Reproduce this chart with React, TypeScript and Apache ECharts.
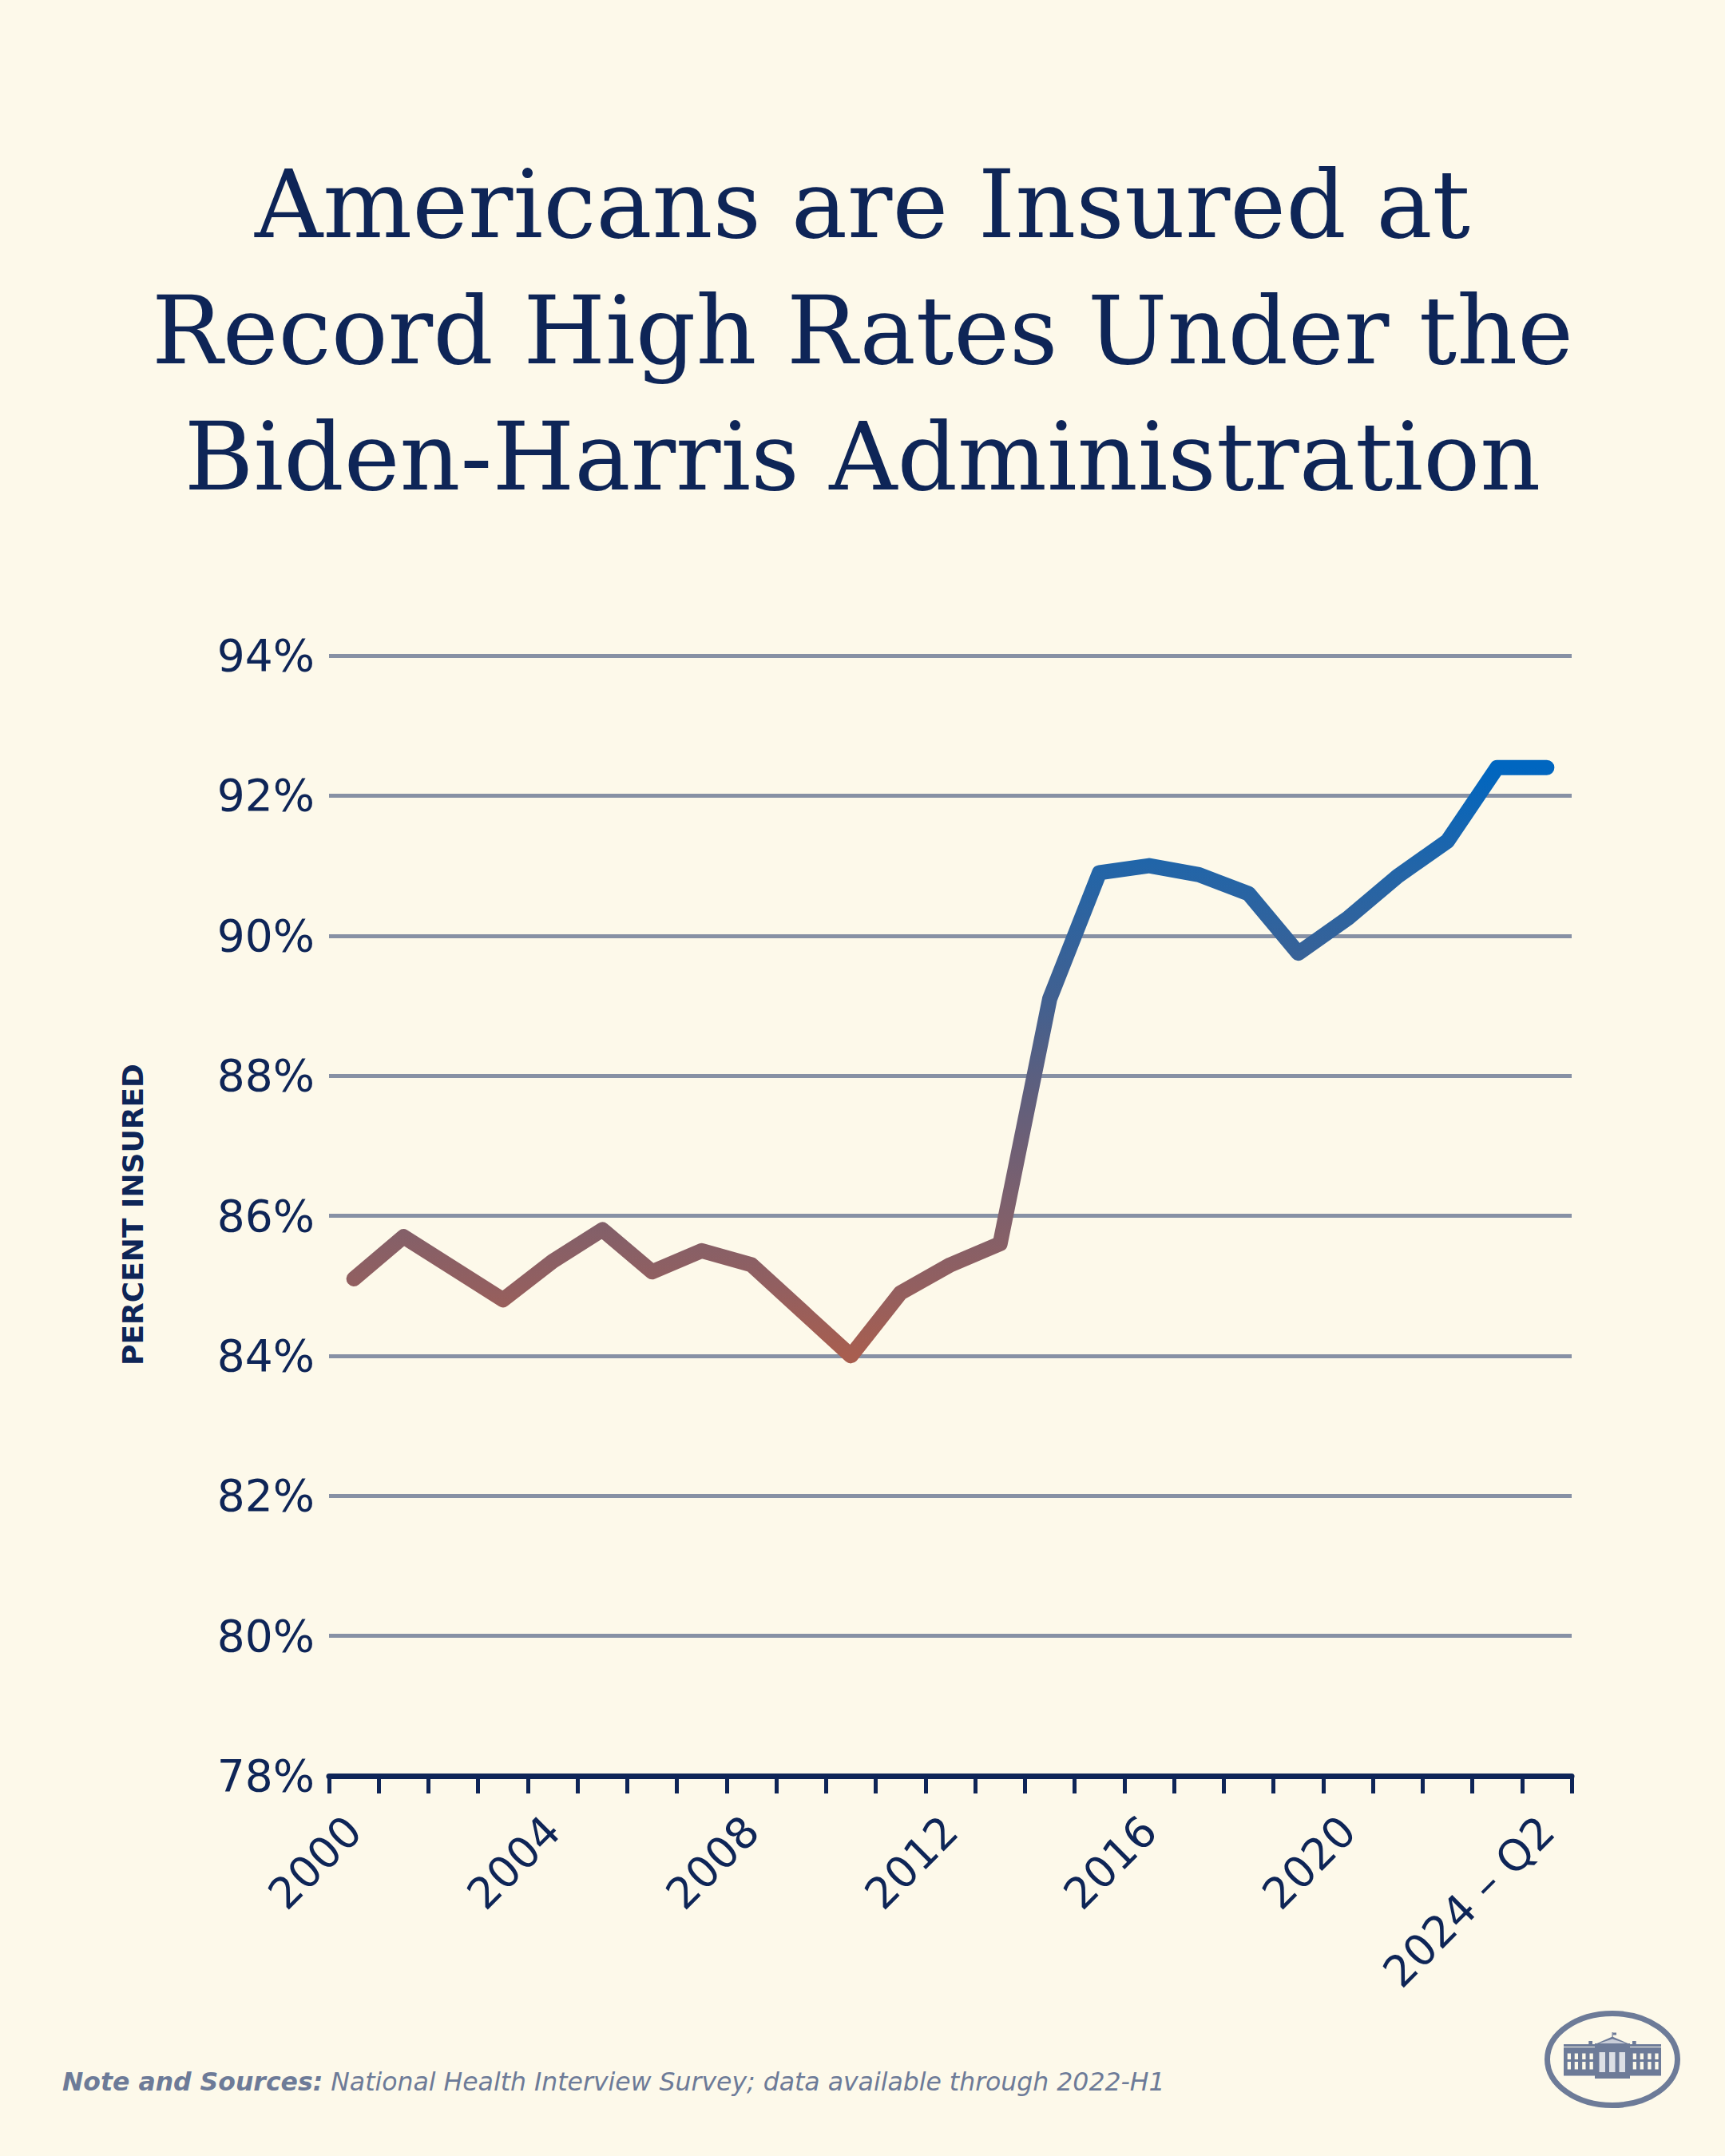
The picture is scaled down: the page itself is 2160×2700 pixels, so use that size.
import React, { useEffect, useRef } from 'react';
import * as echarts from 'echarts';

// ---------- data ----------
const years = [
  '2000', '2001', '2002', '2003', '2004', '2005', '2006', '2007', '2008', '2009',
  '2010', '2011', '2012', '2013', '2014', '2015', '2016', '2017', '2018', '2019',
  '2020', '2021', '2022', '2023', '2024 – Q2',
];
const insured = [
  85.1, 85.7, 85.25, 84.8, 85.35, 85.8, 85.2, 85.5, 85.3, 84.65,
  84.0, 84.9, 85.3, 85.6, 89.1, 90.9, 91.0, 90.87, 90.6, 89.75,
  90.25, 90.85, 91.35, 92.4, 92.4,
];
const Y_MIN = 78;
const Y_MAX = 94;
const Y_STEP = 2;
const titleLines = [
  'Americans are Insured at',
  'Record High Rates Under the',
  'Biden-Harris Administration',
];
const yAxisTitle = 'PERCENT INSURED';
const noteLabel = 'Note and Sources:';
const noteText = ' National Health Interview Survey; data available through 2022-H1';

// ---------- styles ----------
const BG = '#fdf9ea';
const NAVY = '#0e2557';
const GRID = '#8791a5';
const SLATE = '#6d7b98';
const lineStops = [
  { offset: 0, color: '#0066c0' },
  { offset: 0.1667, color: '#2265a8' },
  { offset: 0.4048, color: '#43608f' },
  { offset: 0.5238, color: '#5a5f80' },
  { offset: 0.6429, color: '#6e5f75' },
  { offset: 0.7619, color: '#80606b' },
  { offset: 0.881, color: '#925f60' },
  { offset: 1, color: '#a85e4f' },
];

function logoElements() {
  const els: any[] = [];
  const fill = SLATE;
  els.push({ type: 'ellipse', shape: { cx: 2019, cy: 2579, rx: 81.5, ry: 57.5 }, style: { fill: 'none', stroke: SLATE, lineWidth: 7 } });
  els.push({ type: 'rect', shape: { x: 1958, y: 2560, width: 122, height: 3 }, style: { fill } });
  els.push({ type: 'rect', shape: { x: 1958, y: 2564, width: 122, height: 4 }, style: { fill } });
  els.push({ type: 'rect', shape: { x: 1958, y: 2568, width: 122, height: 28 }, style: { fill } });
  els.push({ type: 'rect', shape: { x: 1958, y: 2595, width: 122, height: 4.5 }, style: { fill } });
  const winX = [1962.7, 1971.7, 1981.2, 1990.5, 2044.7, 2053.7, 2063.3, 2072.3];
  winX.forEach((x) => {
    els.push({ type: 'rect', shape: { x, y: 2571.5, width: 4.3, height: 7.5 }, style: { fill: BG } });
    els.push({ type: 'rect', shape: { x, y: 2582, width: 4.3, height: 9.5 }, style: { fill: BG } });
  });
  els.push({ type: 'rect', shape: { x: 1997, y: 2559, width: 44, height: 44 }, style: { fill } });
  [2002.5, 2015, 2027.5].forEach((x) => {
    els.push({ type: 'rect', shape: { x, y: 2570, width: 7.5, height: 25 }, style: { fill: '#dcdfe5' } });
  });
  els.push({ type: 'polygon', shape: { points: [[1995, 2561], [2019, 2550.5], [2043, 2561]] }, style: { fill } });
  els.push({ type: 'polygon', shape: { points: [[2002, 2559], [2019, 2553.5], [2036, 2559]] }, style: { fill: '#c9cdd8' } });
  els.push({ type: 'rect', shape: { x: 1989.3, y: 2556, width: 4.7, height: 4 }, style: { fill } });
  els.push({ type: 'rect', shape: { x: 2044, y: 2556, width: 4.7, height: 4 }, style: { fill } });
  els.push({ type: 'rect', shape: { x: 2018.5, y: 2545, width: 1.2, height: 6 }, style: { fill } });
  els.push({ type: 'rect', shape: { x: 2019.5, y: 2545.5, width: 4.5, height: 3 }, style: { fill } });
  return els;
}

function buildOption() {
  const titleY = [256, 414, 572];
  const graphic: any[] = titleLines.map((t, i) => ({
    type: 'text',
    x: 1080,
    y: titleY[i],
    style: {
      text: t,
      fill: NAVY,
      fontFamily: 'DejaVu Serif',
      fontSize: 118,
      align: 'center',
      textAlign: 'center',
      verticalAlign: 'middle',
      textVerticalAlign: 'middle',
    },
  }));
  graphic.push({
    type: 'text',
    x: 166,
    y: 1521,
    rotation: Math.PI / 2,
    style: {
      text: yAxisTitle,
      fill: NAVY,
      fontFamily: 'DejaVu Sans',
      fontWeight: 'bold',
      fontSize: 36,
      align: 'center',
      textAlign: 'center',
      verticalAlign: 'middle',
      textVerticalAlign: 'middle',
    },
  });
  graphic.push({
    type: 'text',
    x: 78,
    y: 2607,
    style: {
      text: `{b|${noteLabel}}{r|${noteText}}`,
      verticalAlign: 'middle',
      textVerticalAlign: 'middle',
      rich: {
        b: { fontFamily: 'DejaVu Sans', fontStyle: 'italic', fontWeight: 'bold', fontSize: 31.5, fill: SLATE, color: SLATE },
        r: { fontFamily: 'DejaVu Sans', fontStyle: 'italic', fontSize: 31.5, fill: SLATE, color: SLATE },
      },
    },
  });
  graphic.push({ type: 'group', children: logoElements() });

  return {
    animation: false,
    backgroundColor: BG,
    grid: { left: 412, top: 821, right: 192, bottom: 476, containLabel: false },
    xAxis: {
      type: 'category',
      data: years,
      boundaryGap: true,
      z: 3,
      axisLine: { show: true, lineStyle: { color: NAVY, width: 7 } },
      axisTick: { show: true, interval: 0, length: 22, lineStyle: { color: NAVY, width: 5 } },
      axisLabel: {
        interval: 3,
        rotate: 45,
        margin: 60,
        fontSize: 54,
        fontFamily: 'DejaVu Sans',
        color: NAVY,
      },
      splitLine: { show: false },
    },
    yAxis: {
      type: 'value',
      min: Y_MIN,
      max: Y_MAX,
      interval: Y_STEP,
      axisLine: { show: false },
      axisTick: { show: false },
      axisLabel: {
        formatter: '{value}%',
        fontSize: 55,
        fontFamily: 'DejaVu Sans',
        color: NAVY,
        margin: 18,
        padding: [0, 0, 12, 0],
      },
      splitLine: { show: true, lineStyle: { color: GRID, width: 5 } },
    },
    series: [
      {
        type: 'line',
        data: insured,
        symbol: 'none',
        z: 4,
        lineStyle: {
          width: 19,
          cap: 'round',
          join: 'round',
          color: { type: 'linear', x: 0, y: 0, x2: 0, y2: 1, colorStops: lineStops },
        },
      },
    ],
    graphic,
  };
}

export default function App() {
  const ref = useRef<HTMLDivElement>(null);
  useEffect(() => {
    document.body.style.margin = '0';
    document.body.style.background = BG;
    const chart = echarts.init(ref.current!, null, { renderer: 'svg', width: 2160, height: 2700 });
    chart.setOption(buildOption() as any);
    return () => chart.dispose();
  }, []);
  return <div ref={ref} style={{ width: 2160, height: 2700, background: BG }} />;
}
